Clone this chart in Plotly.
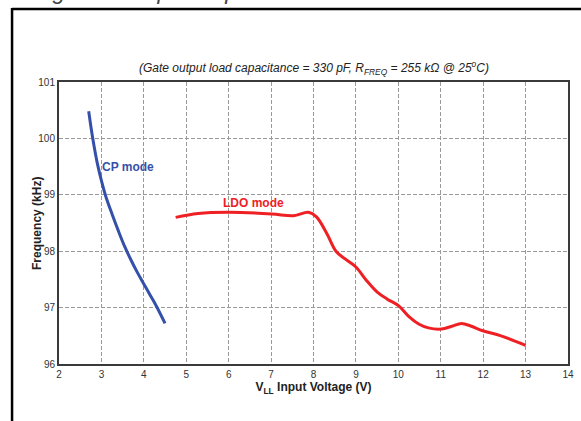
import plotly.graph_objects as go

# CP mode (blue)
cp_x = [2.70, 2.75, 2.80, 2.90, 3.00, 3.10, 3.25, 3.40, 3.55, 3.70, 3.85, 4.00, 4.15, 4.30, 4.50]
cp_y = [100.48, 100.22, 99.98, 99.57, 99.25, 98.98, 98.66, 98.36, 98.08, 97.84, 97.62, 97.42, 97.22, 97.02, 96.72]

# LDO mode (red)
ldo_x = [4.75, 5.28, 6.02, 7.02, 7.53, 7.88, 8.07, 8.31, 8.54, 8.77, 9.00, 9.24, 9.51, 9.74,
         10.01, 10.25, 10.48, 10.71, 11.02, 11.26, 11.49, 11.72, 11.99, 12.42, 13.00]
ldo_y = [98.60, 98.67, 98.69, 98.66, 98.63, 98.69, 98.61, 98.32, 97.99, 97.85, 97.72, 97.49, 97.27, 97.15,
         97.03, 96.84, 96.71, 96.64, 96.62, 96.67, 96.72, 96.67, 96.59, 96.50, 96.33]

x_ticks = [2, 3, 4, 5, 6, 7, 8, 9, 10, 11, 12, 13, 14]
y_ticks = [96, 97, 98, 99, 100, 101]

BLUE = "#3550a8"
RED = "#ee2024"
FONT = "Liberation Sans, Arial, sans-serif"

fig = go.Figure()
fig.add_trace(go.Scatter(x=cp_x, y=cp_y, mode="lines", line=dict(color=BLUE, width=3, shape="spline"),
                         showlegend=False))
fig.add_trace(go.Scatter(x=ldo_x, y=ldo_y, mode="lines", line=dict(color=RED, width=3, shape="spline"),
                         showlegend=False))

W, H = 581, 421
L, R, T, B = 59, 7, 82, 57
pw, ph = W - L - R, H - T - B

def px_x(p):
    return (p - L) / pw

def px_y(p):
    return (H - B - p) / ph

fig.update_layout(
    width=W, height=H,
    margin=dict(l=L, r=R, t=T, b=B, pad=0),
    paper_bgcolor="white", plot_bgcolor="white",
    font=dict(family=FONT, size=10, color="#333333"),
    xaxis=dict(range=[2, 14], tickvals=x_ticks, ticktext=[str(v) for v in x_ticks],
               showgrid=True, gridcolor="#9a9a9a", griddash="4px,2px", gridwidth=1,
               showline=True, linecolor="#3a3a3a", linewidth=2, mirror=True,
               ticks="", zeroline=False, tickfont=dict(size=10, color="#333333"),
               title=dict(text="<b>V<sub>LL</sub> Input Voltage (V)</b>", font=dict(size=12, color="#222222"),
                          standoff=4)),
    yaxis=dict(range=[96, 101], tickvals=y_ticks, ticktext=[str(v) for v in y_ticks],
               showgrid=True, gridcolor="#9a9a9a", griddash="4px,2px", gridwidth=1,
               showline=True, linecolor="#3a3a3a", linewidth=2, mirror=True,
               ticks="", zeroline=False, tickfont=dict(size=10, color="#333333")),
)

# Y-axis title (placed closer than plotly's automatic position)
fig.add_annotation(xref="paper", yref="paper", x=px_x(36.7), y=0.5, xanchor="center", yanchor="middle",
                   text="<b>Frequency (kHz)</b>", textangle=-90, showarrow=False,
                   font=dict(family=FONT, size=12, color="#222222"))

# Outer frame (only top and left edges visible)
fig.add_shape(type="line", xref="paper", yref="paper",
              x0=px_x(11.5), x1=px_x(W + 10), y0=px_y(9), y1=px_y(9),
              line=dict(color="black", width=2.5))
fig.add_shape(type="line", xref="paper", yref="paper",
              x0=px_x(11.5), x1=px_x(11.5), y0=px_y(8), y1=px_y(H + 10),
              line=dict(color="black", width=2.5))

# Cut-off heading at the very top
fig.add_annotation(xref="paper", yref="paper", x=px_x(-2), y=px_y(-9), xanchor="left", yanchor="middle",
                   text="<i>Voltage vs. Output Capacitance of Gate Driver</i>", showarrow=False,
                   font=dict(family=FONT, size=23, color="#444444"))

# Subtitle
fig.add_annotation(xref="paper", yref="paper", x=0.5, y=px_y(68), xanchor="center", yanchor="middle",
                   text="<i>(Gate output load capacitance = 330 pF, R<sub>FREQ</sub> = 255 kΩ @ 25<sup>o</sup>C)</i>",
                   showarrow=False, font=dict(family=FONT, size=12, color="#222222"))

# Series labels
fig.add_annotation(x=2.97, y=99.50, xanchor="left", yanchor="middle", text="<b>CP mode</b>",
                   showarrow=False, font=dict(family=FONT, size=12, color=BLUE))
fig.add_annotation(x=5.82, y=98.85, xanchor="left", yanchor="middle", text="<b>LDO mode</b>",
                   showarrow=False, font=dict(family=FONT, size=12, color=RED))

fig.write_html("out.html", config={"displayModeBar": False},
               post_script="document.body.style.margin='0';")
